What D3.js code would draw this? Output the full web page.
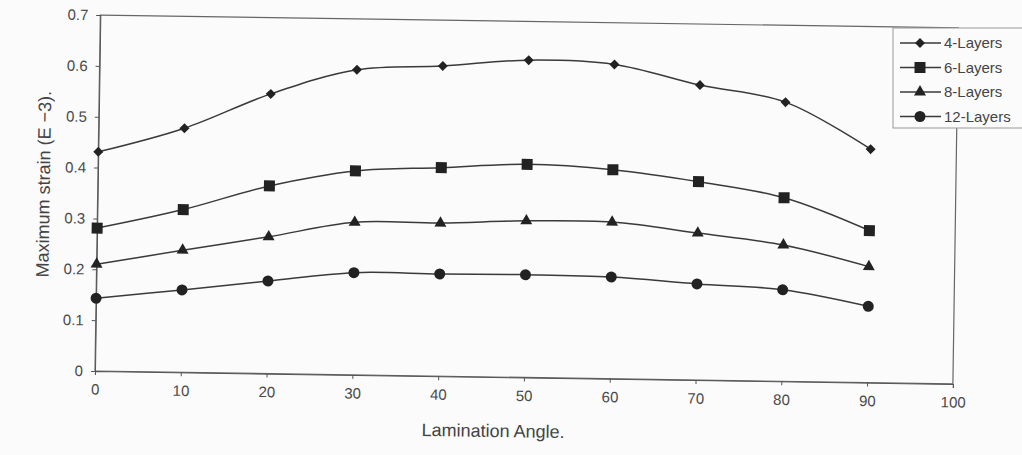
<!DOCTYPE html>
<html>
<head>
	<meta charset="utf-8">
	<style>
		body { margin: 0; background: #fbfbfb; }
		.axisGray line, .axisGray path { stroke: #555; }
		.axisGray text { fill: #4a4a4a; font-family: "Liberation Sans", Arial, sans-serif; font-size: 15px; }
	</style>
	<title>Maximum strain vs lamination angle</title>
</head>
<body>
	<script src="https://cdnjs.cloudflare.com/ajax/libs/d3/7.8.5/d3.min.js"></script>
	<script>
	// Lamination angle (deg) and maximum strain (E-3) per layup
	var angles = [0, 10, 20, 30, 40, 50, 60, 70, 80, 90];
	var layers4  = [0.431, 0.480, 0.550, 0.600, 0.610, 0.624, 0.618, 0.580, 0.549, 0.459];
	var layers6  = [0.281, 0.320, 0.369, 0.401, 0.410, 0.419, 0.411, 0.390, 0.361, 0.299];
	var layers8  = [0.210, 0.240, 0.269, 0.300, 0.301, 0.308, 0.308, 0.289, 0.268, 0.228];
	var layers12 = [0.143, 0.162, 0.182, 0.201, 0.201, 0.202, 0.200, 0.189, 0.180, 0.150];
	var seriesNames = ["4-Layers", "6-Layers", "8-Layers", "12-Layers"];
	var xTicks = [0, 10, 20, 30, 40, 50, 60, 70, 80, 90, 100];
	var yTicks = [0, 0.1, 0.2, 0.3, 0.4, 0.5, 0.6, 0.7];

	var series = [layers4, layers6, layers8, layers12];

	// diamond = square turned 45 degrees
	var diamond = {
		draw: function(ctx, size) {
			var r = Math.sqrt(size) / 2 * Math.SQRT2;
			ctx.moveTo(0, -r); ctx.lineTo(r, 0); ctx.lineTo(0, r); ctx.lineTo(-r, 0); ctx.closePath();
		}
	};
	var symbols = [
		d3.symbol().type(diamond).size(50),
		d3.symbol().type(d3.symbolSquare).size(121),
		d3.symbol().type(d3.symbolTriangle).size(62),
		d3.symbol().type(d3.symbolCircle).size(95)
	];

	var W = 1022, H = 455;
	var plotLeft = 95, plotTop = 15, plotW = 858, plotH = 356;
	var tilt = 0.86; // the scanned page is slightly rotated

	var svg = d3.select("body")
		.append("svg")
		.attr("width", W)
		.attr("height", H);
	svg.append("rect")
		.attr("width", "100%")
		.attr("height", "100%")
		.style("fill", "#fbfbfb");

	var chart = svg.append("g")
		.attr("transform", "rotate(" + tilt + "," + plotLeft + "," + (plotTop + plotH) + ") translate(" + plotLeft + "," + plotTop + ")");

	var xScale = d3.scaleLinear().domain([0, 100]).range([0, plotW]);
	var yScale = d3.scaleLinear().domain([0, 0.7]).range([plotH, 0]);

	// plot frame
	chart.append("rect")
		.attr("width", plotW)
		.attr("height", plotH)
		.style("fill", "none")
		.style("stroke", "#666")
		.style("stroke-width", 1.2);

	chart.append("g")
		.attr("class", "axisGray")
		.attr("transform", "translate(0," + plotH + ")")
		.call(d3.axisBottom(xScale).tickValues(xTicks).tickSize(4).tickPadding(9).tickFormat(d3.format("d")));

	chart.append("g")
		.attr("class", "axisGray")
		.call(d3.axisLeft(yScale).tickValues(yTicks).tickSize(4).tickPadding(8)
			.tickFormat(function(d) { return d === 0 ? "0" : d3.format(".1f")(d); }));

	var line = d3.line()
		.x(function(d, i) { return xScale(angles[i]); })
		.y(function(d) { return yScale(d); })
		.curve(d3.curveCatmullRom.alpha(0.5));

	series.forEach(function(values, k) {
		chart.append("path")
			.datum(values)
			.attr("d", line)
			.style("fill", "none")
			.style("stroke", "#3a3a3a")
			.style("stroke-width", 1.5);
		chart.selectAll("path.m" + k)
			.data(values)
			.enter()
			.append("path")
			.attr("class", "m" + k)
			.attr("d", symbols[k])
			.attr("transform", function(d, i) {
				return "translate(" + xScale(angles[i]) + "," + yScale(d) + ")";
			})
			.style("fill", "#222");
	});

	// axis titles
	chart.append("text")
		.attr("x", plotW / 2 - 30)
		.attr("y", plotH + 60)
		.style("text-anchor", "middle")
		.style("fill", "#444")
		.style("font-family", "Liberation Sans, Arial, sans-serif")
		.style("font-size", "18px")
		.text("Lamination Angle.");
	chart.append("text")
		.attr("transform", "rotate(-90)")
		.attr("x", -(plotH / 2 - 8))
		.attr("y", -48)
		.style("text-anchor", "middle")
		.style("fill", "#444")
		.style("font-family", "Liberation Sans, Arial, sans-serif")
		.style("font-size", "18px")
		.text("Maximum strain (E \u22123).");

	// legend
	var legend = svg.append("g").attr("transform", "translate(893,28)");
	legend.append("rect")
		.attr("width", 140)
		.attr("height", 100)
		.style("fill", "#fbfbfb")
		.style("stroke", "#999");
	seriesNames.forEach(function(name, k) {
		var y = 15 + k * 24.5;
		legend.append("line")
			.attr("x1", 7).attr("x2", 48)
			.attr("y1", y).attr("y2", y)
			.style("stroke", "#3a3a3a")
			.style("stroke-width", 1.5);
		legend.append("path")
			.attr("d", symbols[k])
			.attr("transform", "translate(27," + y + ")")
			.style("fill", "#222");
		legend.append("text")
			.attr("x", 51)
			.attr("y", y + 5)
			.style("fill", "#444")
			.style("font-family", "Liberation Sans, Arial, sans-serif")
			.style("font-size", "15px")
			.text(name);
	});
	</script>
</body>
</html>
